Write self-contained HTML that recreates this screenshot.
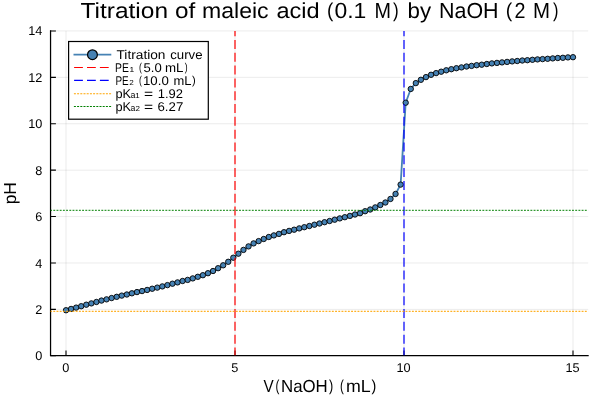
<!DOCTYPE html><html><head><meta charset="utf-8"><style>html,body{margin:0;padding:0;background:#fff;width:600px;height:400px;overflow:hidden}svg{display:block;will-change:transform}text{font-family:"Liberation Sans",sans-serif;fill:#000;text-rendering:geometricPrecision}</style></head><body>
<svg width="600" height="400" viewBox="0 0 600 400">
<rect width="600" height="400" fill="#fff"/>
<path d="M66.00 30.90V355.60M235.00 30.90V355.60M404.00 30.90V355.60M573.00 30.90V355.60M50.60 309.39H588.20M50.60 262.98H588.20M50.60 216.57H588.20M50.60 170.16H588.20M50.60 123.75H588.20M50.60 77.34H588.20M50.60 30.93H588.20" stroke="#000" stroke-opacity="0.08" stroke-width="1" fill="none"/>
<path d="M50.55 30.30V356.20M50.00 355.6H588.7" stroke="#000" stroke-width="1.25" fill="none"/>
<path d="M66.00 355.6V350.4M235.00 355.6V350.4M404.00 355.6V350.4M573.00 355.6V350.4M50.5 355.80H55.9M50.5 309.39H55.9M50.5 262.98H55.9M50.5 216.57H55.9M50.5 170.16H55.9M50.5 123.75H55.9M50.5 77.34H55.9M50.5 30.93H55.9" stroke="#000" stroke-width="1.1" fill="none"/>
<defs><clipPath id="c"><rect x="50.6" y="30.9" width="537.6" height="324.70000000000005"/></clipPath></defs>
<g clip-path="url(#c)">
<path d="M66.00 310.25 L71.07 308.94 L76.14 307.62 L81.21 306.21 L86.28 304.70 L91.35 303.39 L96.42 301.98 L101.49 300.56 L106.56 299.35 L111.63 298.04 L116.70 296.82 L121.77 295.61 L126.84 294.50 L131.91 293.29 L136.98 292.07 L142.05 291.06 L147.12 289.95 L152.19 288.74 L157.26 287.62 L162.33 286.41 L167.40 285.10 L172.47 283.70 L177.54 282.40 L182.61 281.00 L187.68 279.90 L192.75 278.40 L197.82 276.80 L202.89 275.20 L207.96 273.20 L213.03 271.00 L218.10 268.20 L223.17 265.30 L228.24 261.80 L233.31 257.70 L238.38 253.70 L243.45 249.90 L248.52 246.40 L253.59 243.40 L258.66 241.10 L263.73 239.00 L268.80 237.00 L273.87 235.40 L278.94 233.90 L284.01 232.20 L289.08 230.90 L294.15 229.70 L299.22 228.40 L304.29 227.20 L309.36 226.00 L314.43 224.70 L319.50 223.50 L324.57 222.20 L329.64 221.00 L334.71 219.70 L339.78 218.40 L344.85 217.20 L349.92 215.90 L354.99 214.50 L360.06 213.20 L365.13 211.20 L370.20 209.50 L375.27 207.40 L380.34 205.00 L385.41 202.50 L390.48 198.95 L395.55 193.95 L400.62 184.60 L405.69 102.70 L410.76 88.95 L415.83 83.10 L420.90 79.80 L425.97 77.10 L431.04 74.80 L436.11 73.10 L441.18 71.70 L446.25 70.30 L451.32 69.20 L456.39 68.20 L461.46 67.40 L466.53 66.50 L471.60 65.90 L476.67 65.20 L481.74 64.70 L486.81 64.00 L491.88 63.40 L496.95 62.90 L502.02 62.40 L507.09 61.90 L512.16 61.40 L517.23 61.00 L522.30 60.50 L527.37 60.20 L532.44 59.80 L537.51 59.40 L542.58 59.10 L547.65 58.80 L552.72 58.40 L557.79 58.00 L562.86 57.80 L567.93 57.40 L573.00 57.20" stroke="#4682b4" stroke-width="1.8" fill="none" stroke-linejoin="round"/>
<circle cx="66.00" cy="310.25" r="2.7" fill="#4682b4" stroke="#000" stroke-width="0.9"/>
<circle cx="71.07" cy="308.94" r="2.7" fill="#4682b4" stroke="#000" stroke-width="0.9"/>
<circle cx="76.14" cy="307.62" r="2.7" fill="#4682b4" stroke="#000" stroke-width="0.9"/>
<circle cx="81.21" cy="306.21" r="2.7" fill="#4682b4" stroke="#000" stroke-width="0.9"/>
<circle cx="86.28" cy="304.70" r="2.7" fill="#4682b4" stroke="#000" stroke-width="0.9"/>
<circle cx="91.35" cy="303.39" r="2.7" fill="#4682b4" stroke="#000" stroke-width="0.9"/>
<circle cx="96.42" cy="301.98" r="2.7" fill="#4682b4" stroke="#000" stroke-width="0.9"/>
<circle cx="101.49" cy="300.56" r="2.7" fill="#4682b4" stroke="#000" stroke-width="0.9"/>
<circle cx="106.56" cy="299.35" r="2.7" fill="#4682b4" stroke="#000" stroke-width="0.9"/>
<circle cx="111.63" cy="298.04" r="2.7" fill="#4682b4" stroke="#000" stroke-width="0.9"/>
<circle cx="116.70" cy="296.82" r="2.7" fill="#4682b4" stroke="#000" stroke-width="0.9"/>
<circle cx="121.77" cy="295.61" r="2.7" fill="#4682b4" stroke="#000" stroke-width="0.9"/>
<circle cx="126.84" cy="294.50" r="2.7" fill="#4682b4" stroke="#000" stroke-width="0.9"/>
<circle cx="131.91" cy="293.29" r="2.7" fill="#4682b4" stroke="#000" stroke-width="0.9"/>
<circle cx="136.98" cy="292.07" r="2.7" fill="#4682b4" stroke="#000" stroke-width="0.9"/>
<circle cx="142.05" cy="291.06" r="2.7" fill="#4682b4" stroke="#000" stroke-width="0.9"/>
<circle cx="147.12" cy="289.95" r="2.7" fill="#4682b4" stroke="#000" stroke-width="0.9"/>
<circle cx="152.19" cy="288.74" r="2.7" fill="#4682b4" stroke="#000" stroke-width="0.9"/>
<circle cx="157.26" cy="287.62" r="2.7" fill="#4682b4" stroke="#000" stroke-width="0.9"/>
<circle cx="162.33" cy="286.41" r="2.7" fill="#4682b4" stroke="#000" stroke-width="0.9"/>
<circle cx="167.40" cy="285.10" r="2.7" fill="#4682b4" stroke="#000" stroke-width="0.9"/>
<circle cx="172.47" cy="283.70" r="2.7" fill="#4682b4" stroke="#000" stroke-width="0.9"/>
<circle cx="177.54" cy="282.40" r="2.7" fill="#4682b4" stroke="#000" stroke-width="0.9"/>
<circle cx="182.61" cy="281.00" r="2.7" fill="#4682b4" stroke="#000" stroke-width="0.9"/>
<circle cx="187.68" cy="279.90" r="2.7" fill="#4682b4" stroke="#000" stroke-width="0.9"/>
<circle cx="192.75" cy="278.40" r="2.7" fill="#4682b4" stroke="#000" stroke-width="0.9"/>
<circle cx="197.82" cy="276.80" r="2.7" fill="#4682b4" stroke="#000" stroke-width="0.9"/>
<circle cx="202.89" cy="275.20" r="2.7" fill="#4682b4" stroke="#000" stroke-width="0.9"/>
<circle cx="207.96" cy="273.20" r="2.7" fill="#4682b4" stroke="#000" stroke-width="0.9"/>
<circle cx="213.03" cy="271.00" r="2.7" fill="#4682b4" stroke="#000" stroke-width="0.9"/>
<circle cx="218.10" cy="268.20" r="2.7" fill="#4682b4" stroke="#000" stroke-width="0.9"/>
<circle cx="223.17" cy="265.30" r="2.7" fill="#4682b4" stroke="#000" stroke-width="0.9"/>
<circle cx="228.24" cy="261.80" r="2.7" fill="#4682b4" stroke="#000" stroke-width="0.9"/>
<circle cx="233.31" cy="257.70" r="2.7" fill="#4682b4" stroke="#000" stroke-width="0.9"/>
<circle cx="238.38" cy="253.70" r="2.7" fill="#4682b4" stroke="#000" stroke-width="0.9"/>
<circle cx="243.45" cy="249.90" r="2.7" fill="#4682b4" stroke="#000" stroke-width="0.9"/>
<circle cx="248.52" cy="246.40" r="2.7" fill="#4682b4" stroke="#000" stroke-width="0.9"/>
<circle cx="253.59" cy="243.40" r="2.7" fill="#4682b4" stroke="#000" stroke-width="0.9"/>
<circle cx="258.66" cy="241.10" r="2.7" fill="#4682b4" stroke="#000" stroke-width="0.9"/>
<circle cx="263.73" cy="239.00" r="2.7" fill="#4682b4" stroke="#000" stroke-width="0.9"/>
<circle cx="268.80" cy="237.00" r="2.7" fill="#4682b4" stroke="#000" stroke-width="0.9"/>
<circle cx="273.87" cy="235.40" r="2.7" fill="#4682b4" stroke="#000" stroke-width="0.9"/>
<circle cx="278.94" cy="233.90" r="2.7" fill="#4682b4" stroke="#000" stroke-width="0.9"/>
<circle cx="284.01" cy="232.20" r="2.7" fill="#4682b4" stroke="#000" stroke-width="0.9"/>
<circle cx="289.08" cy="230.90" r="2.7" fill="#4682b4" stroke="#000" stroke-width="0.9"/>
<circle cx="294.15" cy="229.70" r="2.7" fill="#4682b4" stroke="#000" stroke-width="0.9"/>
<circle cx="299.22" cy="228.40" r="2.7" fill="#4682b4" stroke="#000" stroke-width="0.9"/>
<circle cx="304.29" cy="227.20" r="2.7" fill="#4682b4" stroke="#000" stroke-width="0.9"/>
<circle cx="309.36" cy="226.00" r="2.7" fill="#4682b4" stroke="#000" stroke-width="0.9"/>
<circle cx="314.43" cy="224.70" r="2.7" fill="#4682b4" stroke="#000" stroke-width="0.9"/>
<circle cx="319.50" cy="223.50" r="2.7" fill="#4682b4" stroke="#000" stroke-width="0.9"/>
<circle cx="324.57" cy="222.20" r="2.7" fill="#4682b4" stroke="#000" stroke-width="0.9"/>
<circle cx="329.64" cy="221.00" r="2.7" fill="#4682b4" stroke="#000" stroke-width="0.9"/>
<circle cx="334.71" cy="219.70" r="2.7" fill="#4682b4" stroke="#000" stroke-width="0.9"/>
<circle cx="339.78" cy="218.40" r="2.7" fill="#4682b4" stroke="#000" stroke-width="0.9"/>
<circle cx="344.85" cy="217.20" r="2.7" fill="#4682b4" stroke="#000" stroke-width="0.9"/>
<circle cx="349.92" cy="215.90" r="2.7" fill="#4682b4" stroke="#000" stroke-width="0.9"/>
<circle cx="354.99" cy="214.50" r="2.7" fill="#4682b4" stroke="#000" stroke-width="0.9"/>
<circle cx="360.06" cy="213.20" r="2.7" fill="#4682b4" stroke="#000" stroke-width="0.9"/>
<circle cx="365.13" cy="211.20" r="2.7" fill="#4682b4" stroke="#000" stroke-width="0.9"/>
<circle cx="370.20" cy="209.50" r="2.7" fill="#4682b4" stroke="#000" stroke-width="0.9"/>
<circle cx="375.27" cy="207.40" r="2.7" fill="#4682b4" stroke="#000" stroke-width="0.9"/>
<circle cx="380.34" cy="205.00" r="2.7" fill="#4682b4" stroke="#000" stroke-width="0.9"/>
<circle cx="385.41" cy="202.50" r="2.7" fill="#4682b4" stroke="#000" stroke-width="0.9"/>
<circle cx="390.48" cy="198.95" r="2.7" fill="#4682b4" stroke="#000" stroke-width="0.9"/>
<circle cx="395.55" cy="193.95" r="2.7" fill="#4682b4" stroke="#000" stroke-width="0.9"/>
<circle cx="400.62" cy="184.60" r="2.7" fill="#4682b4" stroke="#000" stroke-width="0.9"/>
<circle cx="405.69" cy="102.70" r="2.7" fill="#4682b4" stroke="#000" stroke-width="0.9"/>
<circle cx="410.76" cy="88.95" r="2.7" fill="#4682b4" stroke="#000" stroke-width="0.9"/>
<circle cx="415.83" cy="83.10" r="2.7" fill="#4682b4" stroke="#000" stroke-width="0.9"/>
<circle cx="420.90" cy="79.80" r="2.7" fill="#4682b4" stroke="#000" stroke-width="0.9"/>
<circle cx="425.97" cy="77.10" r="2.7" fill="#4682b4" stroke="#000" stroke-width="0.9"/>
<circle cx="431.04" cy="74.80" r="2.7" fill="#4682b4" stroke="#000" stroke-width="0.9"/>
<circle cx="436.11" cy="73.10" r="2.7" fill="#4682b4" stroke="#000" stroke-width="0.9"/>
<circle cx="441.18" cy="71.70" r="2.7" fill="#4682b4" stroke="#000" stroke-width="0.9"/>
<circle cx="446.25" cy="70.30" r="2.7" fill="#4682b4" stroke="#000" stroke-width="0.9"/>
<circle cx="451.32" cy="69.20" r="2.7" fill="#4682b4" stroke="#000" stroke-width="0.9"/>
<circle cx="456.39" cy="68.20" r="2.7" fill="#4682b4" stroke="#000" stroke-width="0.9"/>
<circle cx="461.46" cy="67.40" r="2.7" fill="#4682b4" stroke="#000" stroke-width="0.9"/>
<circle cx="466.53" cy="66.50" r="2.7" fill="#4682b4" stroke="#000" stroke-width="0.9"/>
<circle cx="471.60" cy="65.90" r="2.7" fill="#4682b4" stroke="#000" stroke-width="0.9"/>
<circle cx="476.67" cy="65.20" r="2.7" fill="#4682b4" stroke="#000" stroke-width="0.9"/>
<circle cx="481.74" cy="64.70" r="2.7" fill="#4682b4" stroke="#000" stroke-width="0.9"/>
<circle cx="486.81" cy="64.00" r="2.7" fill="#4682b4" stroke="#000" stroke-width="0.9"/>
<circle cx="491.88" cy="63.40" r="2.7" fill="#4682b4" stroke="#000" stroke-width="0.9"/>
<circle cx="496.95" cy="62.90" r="2.7" fill="#4682b4" stroke="#000" stroke-width="0.9"/>
<circle cx="502.02" cy="62.40" r="2.7" fill="#4682b4" stroke="#000" stroke-width="0.9"/>
<circle cx="507.09" cy="61.90" r="2.7" fill="#4682b4" stroke="#000" stroke-width="0.9"/>
<circle cx="512.16" cy="61.40" r="2.7" fill="#4682b4" stroke="#000" stroke-width="0.9"/>
<circle cx="517.23" cy="61.00" r="2.7" fill="#4682b4" stroke="#000" stroke-width="0.9"/>
<circle cx="522.30" cy="60.50" r="2.7" fill="#4682b4" stroke="#000" stroke-width="0.9"/>
<circle cx="527.37" cy="60.20" r="2.7" fill="#4682b4" stroke="#000" stroke-width="0.9"/>
<circle cx="532.44" cy="59.80" r="2.7" fill="#4682b4" stroke="#000" stroke-width="0.9"/>
<circle cx="537.51" cy="59.40" r="2.7" fill="#4682b4" stroke="#000" stroke-width="0.9"/>
<circle cx="542.58" cy="59.10" r="2.7" fill="#4682b4" stroke="#000" stroke-width="0.9"/>
<circle cx="547.65" cy="58.80" r="2.7" fill="#4682b4" stroke="#000" stroke-width="0.9"/>
<circle cx="552.72" cy="58.40" r="2.7" fill="#4682b4" stroke="#000" stroke-width="0.9"/>
<circle cx="557.79" cy="58.00" r="2.7" fill="#4682b4" stroke="#000" stroke-width="0.9"/>
<circle cx="562.86" cy="57.80" r="2.7" fill="#4682b4" stroke="#000" stroke-width="0.9"/>
<circle cx="567.93" cy="57.40" r="2.7" fill="#4682b4" stroke="#000" stroke-width="0.9"/>
<circle cx="573.00" cy="57.20" r="2.7" fill="#4682b4" stroke="#000" stroke-width="0.9"/>
<line x1="235.00" y1="30.9" x2="235.00" y2="355.6" stroke="#ff0000" stroke-opacity="0.6" stroke-width="2" stroke-dasharray="9 3.81" stroke-dashoffset="3.71"/>
<line x1="404.00" y1="30.9" x2="404.00" y2="355.6" stroke="#0000ff" stroke-opacity="0.6" stroke-width="2" stroke-dasharray="9 3.81" stroke-dashoffset="3.71"/>
<line x1="50.1" y1="311.40" x2="588.2" y2="311.40" stroke="#ffa500" stroke-opacity="0.85" stroke-width="1.35" stroke-dasharray="1.9 1.302"/>
<line x1="50.1" y1="210.30" x2="588.2" y2="210.30" stroke="#008000" stroke-opacity="0.8" stroke-width="1.35" stroke-dasharray="1.9 1.302"/>
</g>
<text x="42.3" y="360.35" font-size="12.7" text-anchor="end">0</text>
<text x="42.3" y="313.94" font-size="12.7" text-anchor="end">2</text>
<text x="42.3" y="267.53" font-size="12.7" text-anchor="end">4</text>
<text x="42.3" y="221.12" font-size="12.7" text-anchor="end">6</text>
<text x="42.3" y="174.71" font-size="12.7" text-anchor="end">8</text>
<text x="42.3" y="128.30" font-size="12.7" text-anchor="end">10</text>
<text x="42.3" y="81.89" font-size="12.7" text-anchor="end">12</text>
<text x="42.3" y="35.48" font-size="12.7" text-anchor="end">14</text>
<text x="65.80" y="371.65" font-size="12.7" text-anchor="middle">0</text>
<text x="234.80" y="371.65" font-size="12.7" text-anchor="middle">5</text>
<text x="403.50" y="371.65" font-size="12.7" text-anchor="middle">10</text>
<text x="572.50" y="371.65" font-size="12.7" text-anchor="middle">15</text>
<text x="263.50" y="391.9" font-size="17.4" textLength="10.19" lengthAdjust="spacingAndGlyphs">V</text>
<text x="275.50" y="390.7" font-size="15.9" textLength="3.84" lengthAdjust="spacingAndGlyphs">(</text>
<text x="281.00" y="391.9" font-size="17.4" textLength="46.79" lengthAdjust="spacingAndGlyphs">NaOH</text>
<text x="329.00" y="390.7" font-size="15.9" textLength="4.24" lengthAdjust="spacingAndGlyphs">)</text>
<text x="340.00" y="390.7" font-size="15.9" textLength="3.84" lengthAdjust="spacingAndGlyphs">(</text>
<text x="346.00" y="391.9" font-size="17.4" textLength="24.72" lengthAdjust="spacingAndGlyphs">mL</text>
<text x="371.50" y="390.7" font-size="15.9" textLength="4.79" lengthAdjust="spacingAndGlyphs">)</text>
<text transform="translate(16.2 193.2) rotate(-90)" x="0" y="0" font-size="17.4" text-anchor="middle">pH</text>
<text x="80.50" y="17.8" font-size="21.8" textLength="87.56" lengthAdjust="spacingAndGlyphs">Titration</text>
<text x="175.00" y="17.8" font-size="21.8" textLength="20.29" lengthAdjust="spacingAndGlyphs">of</text>
<text x="202.00" y="17.8" font-size="21.8" textLength="66.63" lengthAdjust="spacingAndGlyphs">maleic</text>
<text x="276.50" y="17.8" font-size="21.8" textLength="43.19" lengthAdjust="spacingAndGlyphs">acid</text>
<text x="327.00" y="16.7" font-size="20.1" textLength="6.31" lengthAdjust="spacingAndGlyphs">(</text>
<text x="334.50" y="17.8" font-size="21.8" textLength="31.88" lengthAdjust="spacingAndGlyphs">0.1</text>
<text x="374.50" y="17.8" font-size="21.8" textLength="16.48" lengthAdjust="spacingAndGlyphs">M</text>
<text x="393.00" y="16.7" font-size="20.1" textLength="5.69" lengthAdjust="spacingAndGlyphs">)</text>
<text x="407.50" y="17.8" font-size="21.8" textLength="23.58" lengthAdjust="spacingAndGlyphs">by</text>
<text x="439.00" y="17.8" font-size="21.8" textLength="59.53" lengthAdjust="spacingAndGlyphs">NaOH</text>
<text x="505.75" y="16.7" font-size="20.1" textLength="6.48" lengthAdjust="spacingAndGlyphs">(</text>
<text x="514.50" y="17.8" font-size="21.8" textLength="10.96" lengthAdjust="spacingAndGlyphs">2</text>
<text x="533.00" y="17.8" font-size="21.8" textLength="17.01" lengthAdjust="spacingAndGlyphs">M</text>
<text x="553.00" y="16.7" font-size="20.1" textLength="5.47" lengthAdjust="spacingAndGlyphs">)</text>
<rect x="68.6" y="41.5" width="139.7" height="77.7" fill="#fff" stroke="#000" stroke-width="1.2"/>
<line x1="73.5" y1="54.7" x2="111.3" y2="54.7" stroke="#4682b4" stroke-width="1.8"/>
<circle cx="92.45" cy="54.7" r="4.9" fill="#4682b4" stroke="#000" stroke-width="1.2"/>
<line x1="74.1" y1="67.5" x2="111.3" y2="67.5" stroke="#ff0000" stroke-width="1.2" stroke-dasharray="8.8 4.1"/>
<line x1="74.1" y1="80.45" x2="111.3" y2="80.45" stroke="#0000ff" stroke-width="1.2" stroke-dasharray="8.8 4.1"/>
<line x1="73.9" y1="93.75" x2="111.3" y2="93.75" stroke="#ffa500" stroke-width="1.1" stroke-dasharray="2 1.2"/>
<line x1="73.9" y1="106.5" x2="111.3" y2="106.5" stroke="#008000" stroke-width="1.1" stroke-dasharray="2 1.2"/>
<text x="116.50" y="59.00" font-size="12.7" textLength="49.01" lengthAdjust="spacingAndGlyphs">Titration</text>
<text x="170.25" y="59.00" font-size="12.7" textLength="32.33" lengthAdjust="spacingAndGlyphs">curve</text>
<text x="115.00" y="71.85" font-size="12.7" textLength="13.84" lengthAdjust="spacingAndGlyphs">PE</text>
<text x="129.50" y="70.80" font-size="12.7" textLength="4.72" lengthAdjust="spacingAndGlyphs">₁</text>
<text x="139.00" y="71.05" font-size="11.5" textLength="2.88" lengthAdjust="spacingAndGlyphs">(</text>
<text x="143.50" y="71.85" font-size="12.7" textLength="18.19" lengthAdjust="spacingAndGlyphs">5.0</text>
<text x="165.00" y="71.85" font-size="12.7" textLength="18.49" lengthAdjust="spacingAndGlyphs">mL</text>
<text x="184.75" y="71.05" font-size="11.5" textLength="2.88" lengthAdjust="spacingAndGlyphs">)</text>
<text x="115.50" y="84.85" font-size="12.7" textLength="13.24" lengthAdjust="spacingAndGlyphs">PE</text>
<text x="129.00" y="83.80" font-size="12.7" textLength="5.04" lengthAdjust="spacingAndGlyphs">₂</text>
<text x="139.00" y="84.05" font-size="11.5" textLength="2.88" lengthAdjust="spacingAndGlyphs">(</text>
<text x="143.00" y="84.85" font-size="12.7" textLength="25.75" lengthAdjust="spacingAndGlyphs">10.0</text>
<text x="173.50" y="84.85" font-size="12.7" textLength="17.98" lengthAdjust="spacingAndGlyphs">mL</text>
<text x="192.00" y="84.05" font-size="11.5" textLength="3.73" lengthAdjust="spacingAndGlyphs">)</text>
<text x="115.50" y="97.85" font-size="12.7" textLength="15.61" lengthAdjust="spacingAndGlyphs">pK</text>
<text x="130.50" y="96.80" font-size="12.7" textLength="9.20" lengthAdjust="spacingAndGlyphs">ₐ₁</text>
<text x="144.00" y="97.85" font-size="12.7" textLength="9.10" lengthAdjust="spacingAndGlyphs">=</text>
<text x="157.75" y="97.85" font-size="12.7" textLength="25.23" lengthAdjust="spacingAndGlyphs">1.92</text>
<text x="115.50" y="110.80" font-size="12.7" textLength="15.61" lengthAdjust="spacingAndGlyphs">pK</text>
<text x="130.50" y="109.75" font-size="12.7" textLength="9.74" lengthAdjust="spacingAndGlyphs">ₐ₂</text>
<text x="144.00" y="110.80" font-size="12.7" textLength="9.10" lengthAdjust="spacingAndGlyphs">=</text>
<text x="157.50" y="110.80" font-size="12.7" textLength="25.76" lengthAdjust="spacingAndGlyphs">6.27</text>
</svg></body></html>
